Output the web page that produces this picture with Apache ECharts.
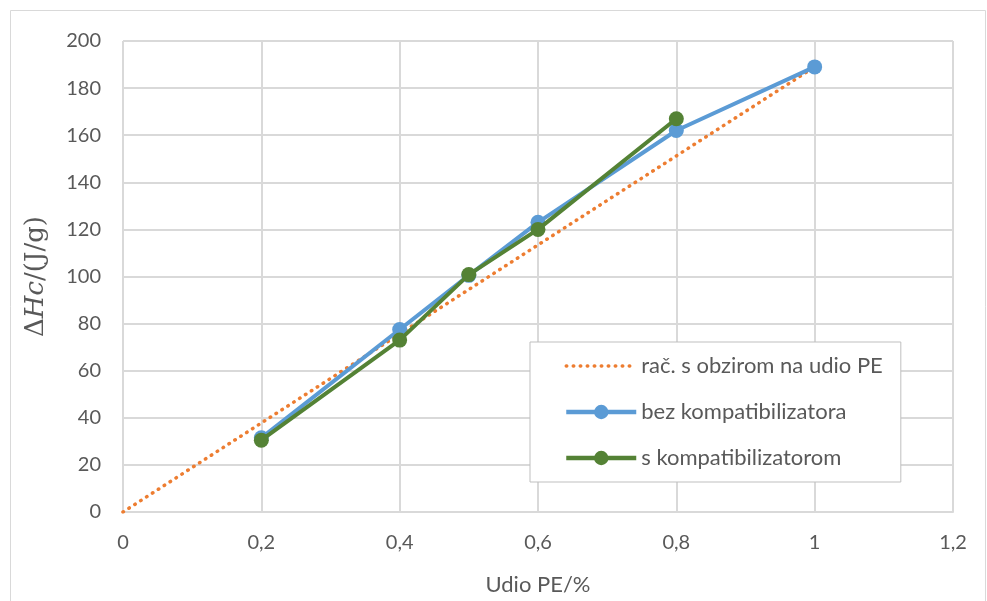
<!DOCTYPE html>
<html><head><meta charset="utf-8">
<script src="https://cdn.jsdelivr.net/npm/echarts@6/dist/echarts.min.js"></script>
<style>html,body{margin:0;padding:0;background:#fff}#c{width:987px;height:601px}</style>
</head><body><div id="c"></div>
<script>
var xTicks = [0, 0.2, 0.4, 0.6, 0.8, 1, 1.2];
var calcX = [0, 1];
var calcY = [0, 189];
var bezX = [0.2, 0.4, 0.5, 0.6, 0.8, 1];
var bezY = [31.5, 77.5, 100.5, 123, 162, 189];
var sX = [0.2, 0.4, 0.5, 0.6, 0.8];
var sY = [30.5, 73, 100.8, 120, 167];
var names = ['rač. s obzirom na udio PE', 'bez kompatibilizatora', 's kompatibilizatorom'];

function pairs(xs, ys){ return xs.map(function(x,i){ return [x, ys[i]]; }); }
var font = 'Lato, "Open Sans", sans-serif';
var chart = echarts.init(document.getElementById('c'));
chart.setOption({
  animation: false,
  backgroundColor: '#fff',
  graphic: [{type:'rect', shape:{x:10.5, y:10.5, width:975, height:595}, style:{fill:'none', stroke:'#D9D9D9', lineWidth:1}, silent:true}],
  grid: {left:123, right:34, top:41, bottom:89},
  xAxis: {
    type:'value', min:0, max:1.2, interval:0.2,
    name:'Udio PE/%', nameLocation:'middle', nameGap:62,
    nameTextStyle:{color:'#595959', fontSize:22, fontFamily:font},
    axisLine:{show:true, lineStyle:{color:'#D9D9D9', width:2}},
    axisTick:{show:false},
    splitLine:{show:true, lineStyle:{color:'#D9D9D9', width:2}},
    axisLabel:{color:'#595959', fontSize:20, fontFamily:font, margin:21,
      formatter:function(v){ var t = xTicks.find(function(a){return Math.abs(a-v)<1e-9;}); return String(t!==undefined?t:v).replace('.', ','); }}
  },
  yAxis: {
    type:'value', min:0, max:200, interval:20,
    name:'{n|Δ}{i|Hc}{n|/(J/g)}', nameLocation:'middle', nameGap:74, nameRotate:90,
    nameTextStyle:{rich:{
      n:{fontFamily:'"DejaVu Serif", serif', fontSize:26, color:'#595959'},
      i:{fontFamily:'"DejaVu Serif", serif', fontStyle:'italic', fontSize:26, color:'#595959'}
    }},
    axisLine:{show:false}, axisTick:{show:false},
    splitLine:{show:true, lineStyle:{color:'#D9D9D9', width:2}},
    axisLabel:{color:'#595959', fontSize:20, fontFamily:font, margin:22}
  },
  legend: {
    left:530, top:342, orient:'vertical',
    data: [
      {name:names[0], itemStyle:{opacity:0}, lineStyle:{width:3.5}},
      {name:names[1], lineStyle:{width:4.5}},
      {name:names[2], lineStyle:{width:4.5}}
    ],
    backgroundColor:'#fff', borderColor:'#BFBFBF', borderWidth:1,
    padding:[13, 18, 13, 34], itemGap:24, itemWidth:70, itemHeight:18,
    textStyle:{color:'#595959', fontSize:22, fontFamily:font}
  },
  series: [
    {name:names[0], type:'line', data:pairs(calcX, calcY), symbol:'none',
     lineStyle:{color:'#ED7D31', width:3.5, type:[0.5, 6.5], cap:'round'}, itemStyle:{color:'#ED7D31'}, z:1},
    {name:names[1], type:'line', data:pairs(bezX, bezY), symbol:'circle', symbolSize:15,
     lineStyle:{color:'#5B9BD5', width:4}, itemStyle:{color:'#5B9BD5'}, z:2},
    {name:names[2], type:'line', data:pairs(sX, sY), symbol:'circle', symbolSize:15,
     lineStyle:{color:'#548235', width:4}, itemStyle:{color:'#548235'}, z:3}
  ]
});
</script></body></html>
